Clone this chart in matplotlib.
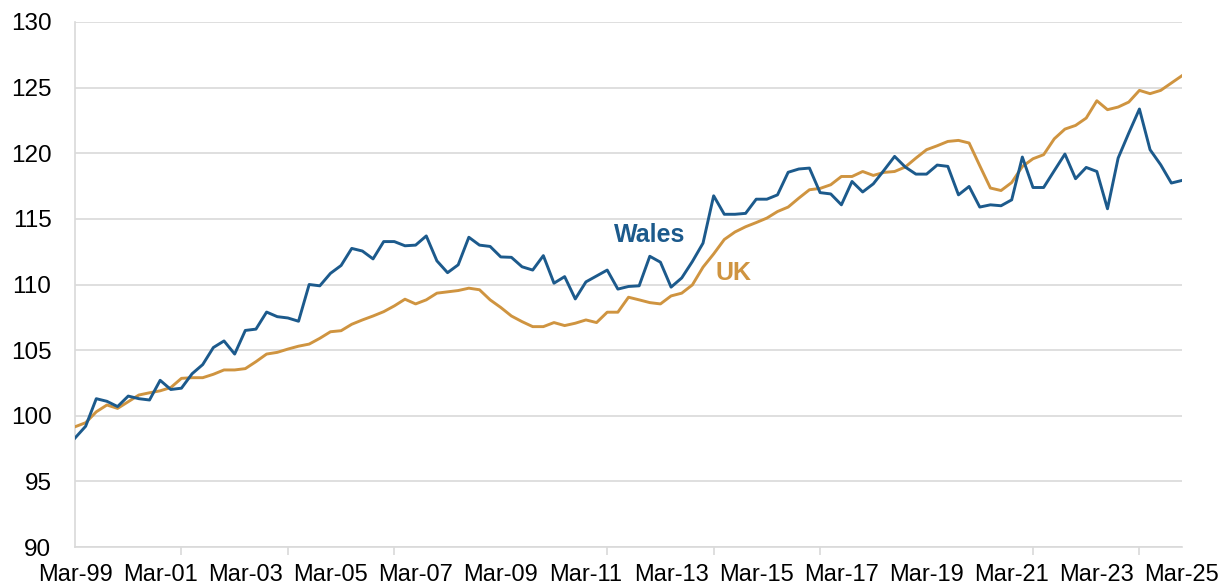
import matplotlib
matplotlib.use("Agg")
import matplotlib.pyplot as plt
import numpy as np

plt.rcParams['font.family'] = ['Liberation Sans', 'DejaVu Sans']

# Quarterly index, Mar-99 .. Mar-25
tick_labels = ["Mar-99", "Mar-01", "Mar-03", "Mar-05", "Mar-07", "Mar-09", "Mar-11",
               "Mar-13", "Mar-15", "Mar-17", "Mar-19", "Mar-21", "Mar-23", "Mar-25"]

wales = [98.3, 99.2, 101.3, 101.1, 100.7, 101.5, 101.3, 101.2, 102.7, 102.0,
         102.1, 103.2, 103.9, 105.2, 105.7, 104.7, 106.5, 106.6, 107.9, 107.55,
         107.45, 107.2, 110.0, 109.9, 110.85, 111.45, 112.75, 112.55, 111.95, 113.27,
         113.27, 112.95, 113.0, 113.7, 111.8, 110.9, 111.5, 113.6, 113.0, 112.9,
         112.1, 112.07, 111.35, 111.1, 112.2, 110.1, 110.6, 108.9, 110.2, 110.65,
         111.1, 109.65, 109.85, 109.9, 112.15, 111.7, 109.8, 110.5, 111.75, 113.15,
         116.76, 115.35, 115.35, 115.42, 116.5, 116.5, 116.83, 118.55, 118.8, 118.87,
         117.0, 116.9, 116.07, 117.85, 117.05, 117.67, 118.7, 119.76, 118.95, 118.41,
         118.41, 119.1, 119.0, 116.83, 117.47, 115.9, 116.07, 116.0, 116.45, 119.71,
         117.39, 117.39, 118.67, 119.94, 118.06, 118.92, 118.61, 115.77, 119.63, 121.54,
         123.37, 120.27, 119.12, 117.73, 117.93]

uk = [99.16, 99.47, 100.3, 100.82, 100.56, 101.07, 101.58, 101.75, 101.9, 102.15,
      102.85, 102.9, 102.9, 103.16, 103.49, 103.49, 103.59, 104.12, 104.7, 104.83,
      105.08, 105.3, 105.46, 105.9, 106.4, 106.48, 106.97, 107.3, 107.6, 107.93,
      108.37, 108.88, 108.52, 108.83, 109.34, 109.44, 109.54, 109.72, 109.6, 108.83,
      108.25, 107.6, 107.17, 106.79, 106.79, 107.1, 106.87, 107.05, 107.3, 107.1,
      107.89, 107.89, 109.03, 108.83, 108.62, 108.52, 109.13, 109.34, 109.97, 111.32,
      112.33, 113.43, 114.0, 114.4, 114.72, 115.06, 115.56, 115.9, 116.58, 117.22,
      117.32, 117.6, 118.23, 118.23, 118.61, 118.31, 118.54, 118.61, 118.95, 119.63,
      120.27, 120.57, 120.9, 120.98, 120.78, 119.05, 117.35, 117.16, 117.77, 118.99,
      119.58, 119.89, 121.1, 121.84, 122.12, 122.68, 124.0, 123.32, 123.52, 123.9,
      124.79, 124.54, 124.79, 125.35, 125.91]

wales_color = '#1C5A8C'
uk_color = '#CF9440'
grid_color = '#D9D9D9'

fig = plt.figure(figsize=(12.21, 5.85), dpi=100)
ax = fig.add_axes([75/1221, 1-547/585, (1182-75)/1221, (547-22)/585])

x = np.arange(len(wales))
ax.plot(x, uk, color=uk_color, lw=2.1, solid_joinstyle='round', zorder=3)
ax.plot(x, wales, color=wales_color, lw=2.1, solid_joinstyle='round', zorder=4)

ax.set_xlim(0, len(wales) - 1)
ax.set_ylim(90, 130)
ax.set_yticks(np.arange(90, 131, 5))
ax.yaxis.grid(True, color=grid_color, lw=1.2)
ax.set_axisbelow(True)

ax.set_xticks(np.arange(0, len(wales), 8))
ax.set_xticklabels(tick_labels)
ax.set_xticks(np.arange(0, len(wales), 10), minor=True)
ax.tick_params(axis='x', which='major', length=0, pad=12, labelsize=17, colors='black')
ax.tick_params(axis='x', which='minor', length=6, width=1.2, color=grid_color, direction='out')
ax.tick_params(axis='y', length=0, pad=17, labelsize=17.5)

for s in ['top', 'right']:
    ax.spines[s].set_visible(False)
for s in ['left', 'bottom']:
    ax.spines[s].set_color(grid_color)
    ax.spines[s].set_linewidth(1.2)

ax.text(54.0, 113.8, "Wales", color=wales_color, fontsize=18, fontweight='bold',
        ha='center', va='center')
ax.text(61.9, 110.85, "UK", color=uk_color, fontsize=18, fontweight='bold',
        ha='center', va='center')

fig.savefig("out.png", dpi=100)
